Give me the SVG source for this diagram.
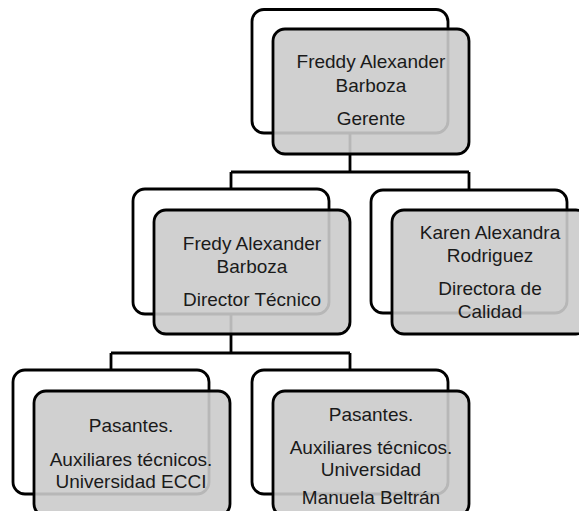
<svg xmlns="http://www.w3.org/2000/svg" width="579" height="511" viewBox="0 0 579 511">
<style>
.back{fill:#ffffff;stroke:#000;stroke-width:2.8}
.front{fill:#cbcbcb;fill-opacity:0.9;stroke:#000;stroke-width:2.8}
.con{fill:none;stroke:#000;stroke-width:2.8}
text{font-family:"Liberation Sans",Arial,sans-serif;font-size:19px;fill:#1a1a1a;text-anchor:middle}
</style>
<rect width="579" height="511" fill="#fff"/>
<g id="connectors">
<path class="con" d="M350 133 V172 M231 172 H469 M231 172 V189 M469 172 V190"/>
<path class="con" d="M231 314 V353 M111 353 H350 M111 353 V370 M350 353 V370"/>
</g>
<g id="gerente">
<rect class="back" x="252" y="9.5" width="196" height="123.5" rx="12"/>
<rect class="front" x="273" y="29" width="196" height="125" rx="12"/>
<text x="371" y="68">Freddy Alexander</text>
<text x="371" y="92">Barboza</text>
<text x="371" y="125">Gerente</text>
</g>
<g id="director">
<rect class="back" x="133" y="189" width="196" height="125" rx="12"/>
<rect class="front" x="154" y="210" width="196" height="124" rx="12"/>
<text x="252" y="250">Fredy Alexander</text>
<text x="252" y="273">Barboza</text>
<text x="252" y="306">Director Técnico</text>
</g>
<g id="calidad">
<rect class="back" x="371" y="190" width="196" height="123" rx="12"/>
<rect class="front" x="392" y="210" width="196" height="124" rx="12"/>
<text x="490" y="239">Karen Alexandra</text>
<text x="490" y="262">Rodriguez</text>
<text x="490" y="295">Directora de</text>
<text x="490" y="318">Calidad</text>
</g>
<g id="pasantes-ecci">
<rect class="back" x="13" y="370" width="196" height="124" rx="12"/>
<rect class="front" x="34" y="391" width="196" height="125" rx="12"/>
<text x="131" y="432">Pasantes.</text>
<text x="131" y="466">Auxiliares técnicos.</text>
<text x="131" y="488">Universidad ECCI</text>
</g>
<g id="pasantes-umb">
<rect class="back" x="252" y="370" width="196" height="124" rx="12"/>
<rect class="front" x="273" y="391" width="196" height="125" rx="12"/>
<text x="371" y="421">Pasantes.</text>
<text x="371" y="454">Auxiliares técnicos.</text>
<text x="371" y="476">Universidad</text>
<text x="371" y="504">Manuela Beltrán</text>
</g>
</svg>
